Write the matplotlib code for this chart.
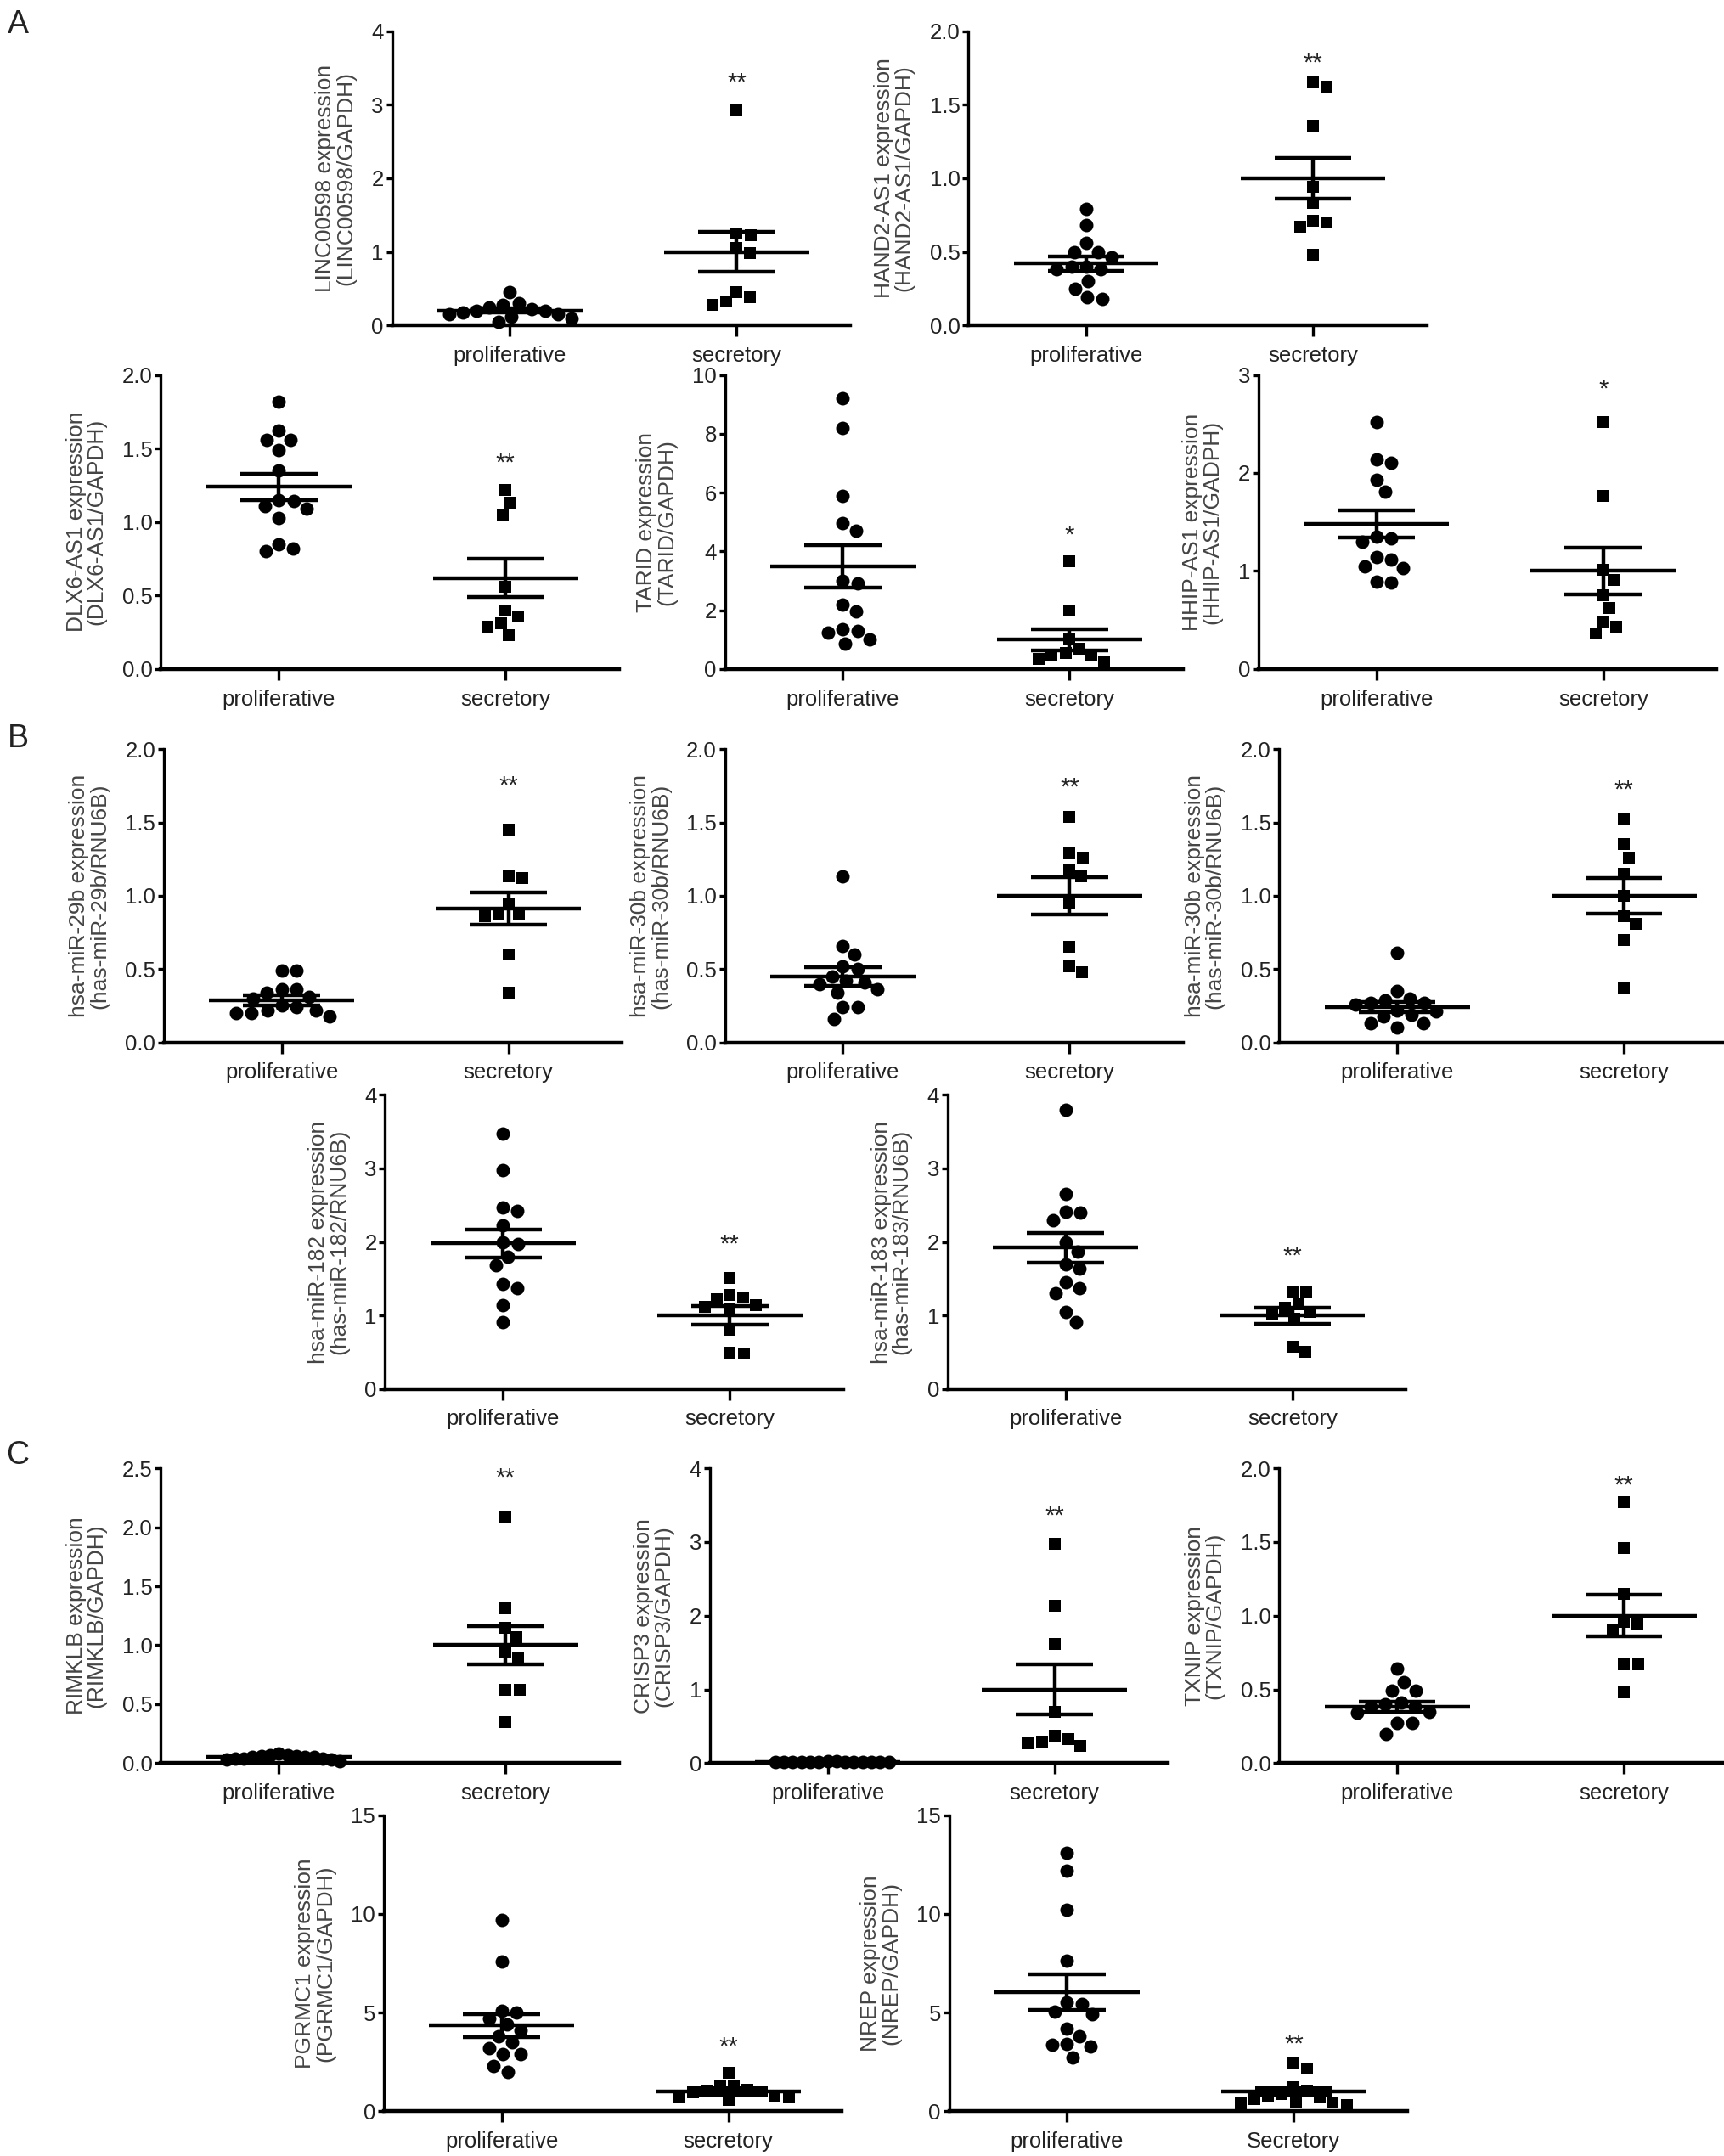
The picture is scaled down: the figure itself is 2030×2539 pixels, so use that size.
import numpy as np
import matplotlib
matplotlib.use("Agg")
import matplotlib.pyplot as plt

# ---------------- DATA ----------------
categories = ["proliferative", "secretory"]
categories_nrep = ["proliferative", "Secretory"]

linc_prolif = [0.45, 0.30, 0.28, 0.25, 0.22, 0.20, 0.20, 0.18, 0.15, 0.15, 0.12, 0.10, 0.05]
linc_secret = [2.92, 1.25, 1.22, 1.05, 0.98, 0.45, 0.38, 0.33, 0.28]
linc_mean = [0.20, 1.00]
linc_sem = [0.03, 0.27]

hand2_prolif = [0.79, 0.68, 0.56, 0.50, 0.50, 0.46, 0.40, 0.40, 0.38, 0.38, 0.30, 0.25, 0.19, 0.18]
hand2_secret = [1.65, 1.62, 1.36, 0.94, 0.83, 0.71, 0.70, 0.67, 0.48]
hand2_mean = [0.42, 1.00]
hand2_sem = [0.05, 0.14]

dlx6_prolif = [1.82, 1.62, 1.56, 1.56, 1.49, 1.35, 1.15, 1.14, 1.11, 1.09, 1.03, 0.85, 0.82, 0.80]
dlx6_secret = [1.22, 1.13, 1.05, 0.56, 0.40, 0.36, 0.31, 0.29, 0.23]
dlx6_mean = [1.24, 0.62]
dlx6_sem = [0.09, 0.13]

tarid_prolif = [9.2, 8.2, 5.9, 4.95, 4.7, 3.0, 2.9, 2.2, 1.95, 1.35, 1.3, 1.25, 1.0, 0.85]
tarid_secret = [3.65, 2.0, 1.05, 0.7, 0.55, 0.5, 0.45, 0.35, 0.25]
tarid_mean = [3.50, 1.00]
tarid_sem = [0.72, 0.36]

hhip_prolif = [2.52, 2.14, 2.10, 1.93, 1.81, 1.35, 1.33, 1.30, 1.14, 1.12, 1.05, 1.03, 0.89, 0.88]
hhip_secret = [2.52, 1.77, 1.01, 0.91, 0.75, 0.62, 0.48, 0.43, 0.36]
hhip_mean = [1.48, 1.00]
hhip_sem = [0.14, 0.24]

mir29b_prolif = [0.49, 0.49, 0.36, 0.36, 0.34, 0.31, 0.30, 0.25, 0.24, 0.22, 0.22, 0.20, 0.20, 0.18]
mir29b_secret = [1.45, 1.13, 1.12, 0.94, 0.88, 0.87, 0.86, 0.60, 0.34]
mir29b_mean = [0.29, 0.91]
mir29b_sem = [0.035, 0.11]

mir30b_prolif = [1.13, 0.66, 0.60, 0.52, 0.50, 0.45, 0.42, 0.41, 0.40, 0.36, 0.34, 0.24, 0.24, 0.16]
mir30b_secret = [1.54, 1.29, 1.26, 1.18, 1.13, 0.95, 0.65, 0.52, 0.48]
mir30b_mean = [0.45, 1.00]
mir30b_sem = [0.065, 0.125]

mir30b2_prolif = [0.61, 0.35, 0.30, 0.29, 0.27, 0.27, 0.26, 0.22, 0.21, 0.19, 0.18, 0.13, 0.13, 0.10]
mir30b2_secret = [1.52, 1.35, 1.26, 1.15, 1.00, 0.86, 0.81, 0.70, 0.37]
mir30b2_mean = [0.24, 1.00]
mir30b2_sem = [0.035, 0.12]

mir182_prolif = [3.47, 2.97, 2.47, 2.42, 2.22, 1.99, 1.97, 1.80, 1.68, 1.43, 1.37, 1.14, 0.91]
mir182_secret = [1.51, 1.28, 1.24, 1.22, 1.14, 1.12, 1.08, 0.80, 0.49, 0.48]
mir182_mean = [1.98, 1.00]
mir182_sem = [0.19, 0.125]

mir183_prolif = [3.79, 2.65, 2.41, 2.40, 2.30, 1.99, 1.87, 1.70, 1.64, 1.45, 1.37, 1.30, 1.05, 0.91]
mir183_secret = [1.32, 1.31, 1.15, 1.10, 1.05, 1.02, 0.96, 0.58, 0.50]
mir183_mean = [1.92, 1.00]
mir183_sem = [0.20, 0.11]

rimklb_prolif = [0.08, 0.07, 0.07, 0.06, 0.06, 0.05, 0.05, 0.05, 0.04, 0.04, 0.04, 0.03, 0.03, 0.02]
rimklb_secret = [2.08, 1.31, 1.15, 1.07, 0.94, 0.89, 0.62, 0.62, 0.35]
rimklb_mean = [0.05, 1.00]
rimklb_sem = [0.005, 0.165]

crisp3_prolif = [0.03, 0.03, 0.02, 0.02, 0.02, 0.02, 0.02, 0.02, 0.01, 0.01, 0.01, 0.01, 0.01, 0.01]
crisp3_secret = [2.98, 2.13, 1.62, 0.69, 0.37, 0.33, 0.29, 0.27, 0.23]
crisp3_mean = [0.02, 1.00]
crisp3_sem = [0.002, 0.335]

txnip_prolif = [0.64, 0.55, 0.49, 0.49, 0.41, 0.40, 0.38, 0.38, 0.35, 0.34, 0.27, 0.27, 0.20]
txnip_secret = [1.77, 1.46, 1.15, 0.96, 0.94, 0.90, 0.67, 0.67, 0.48]
txnip_mean = [0.38, 1.00]
txnip_sem = [0.035, 0.14]

pgrmc1_prolif = [9.7, 7.6, 5.1, 5.0, 4.7, 4.4, 4.1, 3.8, 3.5, 3.2, 2.9, 2.9, 2.3, 2.0]
pgrmc1_secret = [1.95, 1.3, 1.25, 1.1, 1.05, 1.0, 0.95, 0.8, 0.75, 0.7, 0.55]
pgrmc1_mean = [4.35, 1.00]
pgrmc1_sem = [0.58, 0.17]

nrep_prolif = [13.1, 12.2, 10.2, 7.65, 5.5, 5.45, 5.05, 4.9, 4.2, 3.8, 3.4, 3.35, 3.3, 2.7]
nrep_secret = [2.4, 2.15, 1.2, 1.05, 0.85, 0.8, 0.75, 0.6, 0.5, 0.45, 0.4, 0.3]
nrep_mean = [6.05, 1.00]
nrep_sem = [0.90, 0.18]

ylabels = [
    "LINC00598 expression\n(LINC00598/GAPDH)",
    "HAND2-AS1 expression\n(HAND2-AS1/GAPDH)",
    "DLX6-AS1 expression\n(DLX6-AS1/GAPDH)",
    "TARID expression\n(TARID/GAPDH)",
    "HHIP-AS1 expression\n(HHIP-AS1/GADPH)",
    "hsa-miR-29b expression\n(has-miR-29b/RNU6B)",
    "hsa-miR-30b expression\n(has-miR-30b/RNU6B)",
    "hsa-miR-30b expression\n(has-miR-30b/RNU6B)",
    "hsa-miR-182 expression\n(has-miR-182/RNU6B)",
    "hsa-miR-183 expression\n(has-miR-183/RNU6B)",
    "RIMKLB expression\n(RIMKLB/GAPDH)",
    "CRISP3 expression\n(CRISP3/GAPDH)",
    "TXNIP expression\n(TXNIP/GAPDH)",
    "PGRMC1 expression\n(PGRMC1/GAPDH)",
    "NREP expression\n(NREP/GAPDH)",
]

ytick_values = [
    [0, 1, 2, 3, 4],
    [0.0, 0.5, 1.0, 1.5, 2.0],
    [0.0, 0.5, 1.0, 1.5, 2.0],
    [0, 2, 4, 6, 8, 10],
    [0, 1, 2, 3],
    [0.0, 0.5, 1.0, 1.5, 2.0],
    [0.0, 0.5, 1.0, 1.5, 2.0],
    [0.0, 0.5, 1.0, 1.5, 2.0],
    [0, 1, 2, 3, 4],
    [0, 1, 2, 3, 4],
    [0.0, 0.5, 1.0, 1.5, 2.0, 2.5],
    [0, 1, 2, 3, 4],
    [0.0, 0.5, 1.0, 1.5, 2.0],
    [0, 5, 10, 15],
    [0, 5, 10, 15],
]
ytick_labels = [
    ["0", "1", "2", "3", "4"],
    ["0.0", "0.5", "1.0", "1.5", "2.0"],
    ["0.0", "0.5", "1.0", "1.5", "2.0"],
    ["0", "2", "4", "6", "8", "10"],
    ["0", "1", "2", "3"],
    ["0.0", "0.5", "1.0", "1.5", "2.0"],
    ["0.0", "0.5", "1.0", "1.5", "2.0"],
    ["0.0", "0.5", "1.0", "1.5", "2.0"],
    ["0", "1", "2", "3", "4"],
    ["0", "1", "2", "3", "4"],
    ["0.0", "0.5", "1.0", "1.5", "2.0", "2.5"],
    ["0", "1", "2", "3", "4"],
    ["0.0", "0.5", "1.0", "1.5", "2.0"],
    ["0", "5", "10", "15"],
    ["0", "5", "10", "15"],
]
stars = ["**", "**", "**", "*", "*", "**", "**", "**", "**", "**", "**", "**", "**", "**", "**"]
star_y = [3.30, 1.78, 1.40, 4.55, 2.85, 1.75, 1.74, 1.72, 1.97, 1.80, 2.42, 3.35, 1.88, 3.25, 3.40]

prolif_sets = [linc_prolif, hand2_prolif, dlx6_prolif, tarid_prolif, hhip_prolif,
               mir29b_prolif, mir30b_prolif, mir30b2_prolif, mir182_prolif, mir183_prolif,
               rimklb_prolif, crisp3_prolif, txnip_prolif, pgrmc1_prolif, nrep_prolif]
secret_sets = [linc_secret, hand2_secret, dlx6_secret, tarid_secret, hhip_secret,
               mir29b_secret, mir30b_secret, mir30b2_secret, mir182_secret, mir183_secret,
               rimklb_secret, crisp3_secret, txnip_secret, pgrmc1_secret, nrep_secret]
mean_sets = [linc_mean, hand2_mean, dlx6_mean, tarid_mean, hhip_mean,
             mir29b_mean, mir30b_mean, mir30b2_mean, mir182_mean, mir183_mean,
             rimklb_mean, crisp3_mean, txnip_mean, pgrmc1_mean, nrep_mean]
sem_sets = [linc_sem, hand2_sem, dlx6_sem, tarid_sem, hhip_sem,
            mir29b_sem, mir30b_sem, mir30b2_sem, mir182_sem, mir183_sem,
            rimklb_sem, crisp3_sem, txnip_sem, pgrmc1_sem, nrep_sem]
cat_sets = [categories] * 14 + [categories_nrep]

# ---------------- LAYOUT ----------------
W, H, DPI = 2031, 2539, 100
SC = W / 1254.0
# (y-axis x, top, bottom) in reference display units
layout = [
    (285, 22.6, 236.6), (704, 22.6, 236.6),
    (117, 272.6, 486.5), (527, 272.6, 486.5), (915, 272.6, 486.5),
    (119, 544.7, 758), (527, 544.7, 758), (930, 544.7, 758),
    (280, 796, 1010), (689, 796, 1010),
    (117, 1067.6, 1282), (516, 1067.6, 1282), (930, 1067.6, 1282),
    (279, 1320, 1535), (690, 1320, 1535),
]
AX_W = 333
XLIM = (-0.52, 1.50)
MAX_SPREAD = 0.27

TEXT_FONT = ["Liberation Sans", "DejaVu Sans"]

fig = plt.figure(figsize=(W / DPI, H / DPI), dpi=DPI)


def swarm_offsets(ypix, d):
    n = len(ypix)
    xs = np.zeros(n)
    order = np.argsort(-np.asarray(ypix))
    placed = []
    for i in order:
        y = ypix[i]
        ints = []
        for (xp, yp) in placed:
            dy = abs(y - yp)
            if dy < d:
                dx = np.sqrt(d * d - dy * dy)
                ints.append((xp - dx, xp + dx))
        cands = [0.0] + [a for a, b in ints] + [b for a, b in ints]
        cands.sort(key=lambda c: (round(abs(c), 6), -c))
        for c in cands:
            if all(not (a + 1e-6 < c < b - 1e-6) for a, b in ints):
                xs[i] = c
                break
        placed.append((xs[i], y))
    return xs


for k in range(15):
    x0, top, bot = layout[k]
    left = x0 * SC / W
    width = AX_W * SC / W
    bottom = 1 - bot * SC / H
    height = (bot - top) * SC / H
    ax = fig.add_axes([left, bottom, width, height])
    ymax = ytick_values[k][-1]
    ax.set_xlim(*XLIM)
    ax.set_ylim(0, ymax)

    ax_w_px = width * W
    ax_h_px = height * H
    xpx = ax_w_px / (XLIM[1] - XLIM[0])
    ypx = ax_h_px / ymax

    for gi, (vals, mk, ms, dd) in enumerate([(prolif_sets[k], "o", 11.5, 17.5),
                                             (secret_sets[k], "s", 10.0, 16.5)]):
        v = np.asarray(vals, dtype=float)
        offs = swarm_offsets(v * ypx, dd) / xpx
        spread = np.abs(offs).max()
        if spread > MAX_SPREAD:
            offs = offs * (MAX_SPREAD / spread)
        ax.plot(gi + offs, v, linestyle="none", marker=mk, ms=ms, color="black",
                markeredgewidth=0, clip_on=False, zorder=3)
        m = mean_sets[k][gi]
        s = sem_sets[k][gi]
        ax.hlines(m, gi - 0.32, gi + 0.32, color="black", lw=3.2, zorder=4)
        ax.hlines([m - s, m + s], gi - 0.17, gi + 0.17, color="black", lw=3.2, zorder=4)
        ax.vlines(gi, m - s, m + s, color="black", lw=3.2, zorder=4)

    ax.text(1, star_y[k], stars[k], ha="center", va="center", fontsize=21,
            family=TEXT_FONT, color="#222222")

    for sp in ["top", "right"]:
        ax.spines[sp].set_visible(False)
    ax.spines["left"].set_linewidth(2.4)
    ax.spines["bottom"].set_linewidth(3.2)
    ax.set_xticks([0, 1])
    ax.set_xticklabels(cat_sets[k], family=TEXT_FONT, fontsize=18.5, color="#222222")
    ax.set_yticks(ytick_values[k])
    ax.set_yticklabels(ytick_labels[k], family=TEXT_FONT, fontsize=18.5, color="#222222")
    ax.tick_params(axis="x", length=9, width=2.4, pad=8)
    ax.tick_params(axis="y", length=5, width=2.4, pad=2)
    ax.set_ylabel(ylabels[k], family=TEXT_FONT, fontsize=19, color="#444444",
                  linespacing=1.0, labelpad=13)

# panel letters
for letter, (xd, yd) in zip(["A", "B", "C"], [(13, 18), (13, 537), (13, 1058)]):
    fig.text(xd * SC / W, 1 - yd * SC / H, letter, fontsize=27, family=TEXT_FONT,
             ha="center", va="center", color="#222222")

fig.savefig("out.png", dpi=DPI)
